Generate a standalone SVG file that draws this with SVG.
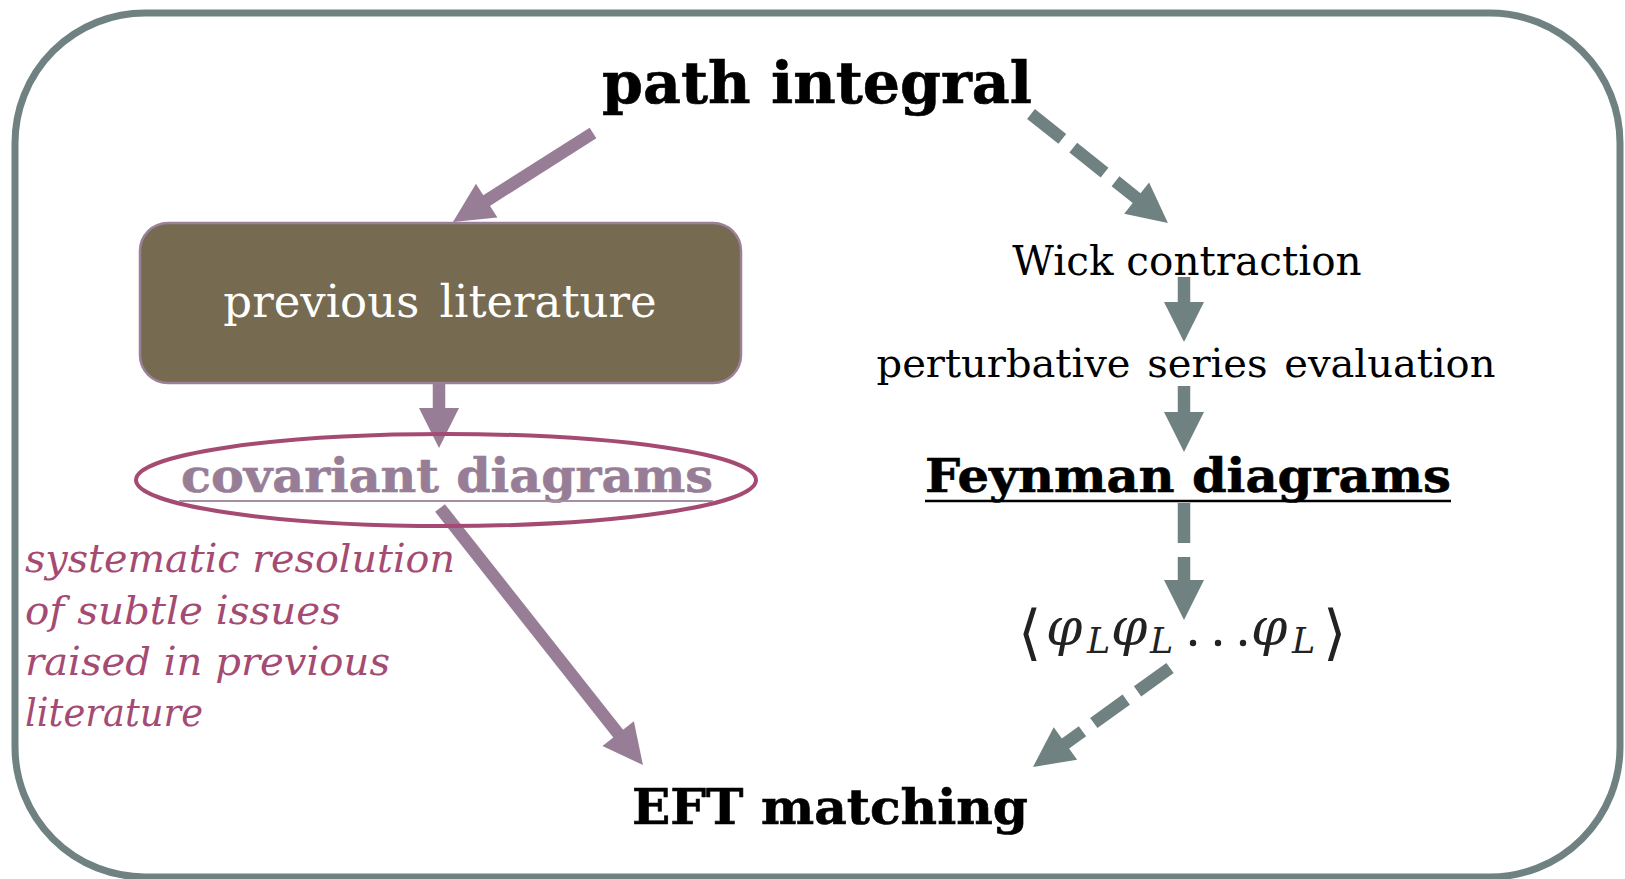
<svg xmlns="http://www.w3.org/2000/svg" width="1625" height="879" viewBox="0 0 1625 879">
  <style>
    .bold { font-family: "DejaVu Serif", "Liberation Serif", serif; font-weight: bold; stroke-width: 0.6; }
    .reg { font-family: "DejaVu Serif", "Liberation Serif", serif; }
    .ital { font-family: "DejaVu Serif", "Liberation Serif", serif; font-style: italic; fill: #a54b73; font-size: 39px; }
    .purple { stroke: #977e96; stroke-width: 12.5; fill: none; }
    .gray { stroke: #6f8181; stroke-width: 12.5; fill: none; }
    .dash { stroke-dasharray: 40 14; }
  </style>
  <defs>
    <marker id="ahP" markerUnits="userSpaceOnUse" viewBox="0 -25 45 50" markerWidth="45" markerHeight="50" refX="2" refY="0" orient="auto" overflow="visible">
      <path d="M0,-20 L40,0 L0,20 Z" fill="#977e96"/>
    </marker>
    <marker id="ahG" markerUnits="userSpaceOnUse" viewBox="0 -25 45 50" markerWidth="45" markerHeight="50" refX="2" refY="0" orient="auto" overflow="visible">
      <path d="M0,-20 L40,0 L0,20 Z" fill="#6f8181"/>
    </marker>
  </defs>

  <rect id="frame" x="15" y="13" width="1605" height="864" rx="130" ry="130" fill="#ffffff" stroke="#6f8181" stroke-width="7"/>

  <g id="connectors">
    <line class="purple" x1="593" y1="133" x2="485" y2="201.6" marker-end="url(#ahP)"/>
    <line class="gray dash" x1="1031" y1="114" x2="1138.2" y2="199.3" marker-end="url(#ahG)"/>
    <line class="purple" x1="439" y1="383" x2="439" y2="410" marker-end="url(#ahP)"/>
    <line class="purple" x1="440" y1="508" x2="619.4" y2="735.2" marker-end="url(#ahP)"/>
    <line class="gray" x1="1184" y1="277" x2="1184" y2="304" marker-end="url(#ahG)"/>
    <line class="gray" x1="1184" y1="386" x2="1184" y2="414" marker-end="url(#ahG)"/>
    <line class="gray dash" x1="1184" y1="503" x2="1184" y2="582" marker-end="url(#ahG)"/>
    <line class="gray dash" x1="1170" y1="668" x2="1063.8" y2="744.7" marker-end="url(#ahG)"/>
  </g>

  <g id="path-integral">
    <text class="bold" x="817" y="103" font-size="57" text-anchor="middle" fill="#000" stroke="#000" textLength="430" lengthAdjust="spacingAndGlyphs">path integral</text>
  </g>

  <g id="previous-literature">
    <rect x="140" y="223" width="601" height="160" rx="28" ry="28" fill="#766a50" stroke="#9a8199" stroke-width="2.5"/>
    <text class="reg" x="440" y="317" font-size="45" fill="#ffffff" text-anchor="middle" word-spacing="6">previous literature</text>
  </g>

  <g id="covariant-diagrams">
    <ellipse cx="446" cy="480" rx="310" ry="46" fill="none" stroke="#a54b73" stroke-width="4"/>
    <text class="bold" x="447" y="492" font-size="46" fill="#977e96" stroke="#977e96" text-anchor="middle" textLength="532" lengthAdjust="spacingAndGlyphs">covariant diagrams</text>
    <line x1="179" y1="501" x2="713" y2="501" stroke="#a58fa3" stroke-width="2"/>
  </g>

  <g id="note">
    <text class="ital" x="25" y="572" textLength="430" lengthAdjust="spacingAndGlyphs">systematic resolution</text>
    <text class="ital" x="25" y="624" textLength="316" lengthAdjust="spacingAndGlyphs">of subtle issues</text>
    <text class="ital" x="25" y="675" textLength="365" lengthAdjust="spacingAndGlyphs">raised in previous</text>
    <text class="ital" x="25" y="726" textLength="178" lengthAdjust="spacingAndGlyphs">literature</text>
  </g>

  <g id="wick">
    <text class="reg" x="1187" y="275" font-size="40.5" text-anchor="middle">Wick contraction</text>
  </g>

  <g id="perturbative">
    <text class="reg" x="1186" y="377" font-size="40" text-anchor="middle" word-spacing="4">perturbative series evaluation</text>
  </g>

  <g id="feynman">
    <text class="bold" x="1188" y="492" font-size="46" fill="#000" stroke="#000" text-anchor="middle" textLength="526" lengthAdjust="spacingAndGlyphs">Feynman diagrams</text>
    <line x1="925" y1="501" x2="1451" y2="501" stroke="#000000" stroke-width="2.5"/>
  </g>

  <g id="correlator">
    <text font-family="DejaVu Sans, sans-serif" font-size="60" font-weight="200" fill="#222">
      <tspan x="1018" y="653">⟨</tspan>
      <tspan x="1323" y="653">⟩</tspan>
    </text>
    <text font-family="DejaVu Serif, serif" font-style="italic" fill="#222">
      <tspan x="1046" y="645" font-size="52">φ</tspan><tspan x="1087" y="653" font-size="35">L</tspan><tspan x="1111" y="645" font-size="52">φ</tspan><tspan x="1150" y="653" font-size="35">L</tspan><tspan x="1251" y="645" font-size="52">φ</tspan><tspan x="1292" y="653" font-size="35">L</tspan>
    </text>
    <g fill="#222">
      <circle cx="1193" cy="643" r="3.2"/>
      <circle cx="1218" cy="643" r="3.2"/>
      <circle cx="1243" cy="643" r="3.2"/>
    </g>
  </g>

  <g id="eft-matching">
    <text class="bold" x="830" y="824" font-size="48" fill="#000" stroke="#000" text-anchor="middle" textLength="396" lengthAdjust="spacingAndGlyphs">EFT matching</text>
  </g>
</svg>
